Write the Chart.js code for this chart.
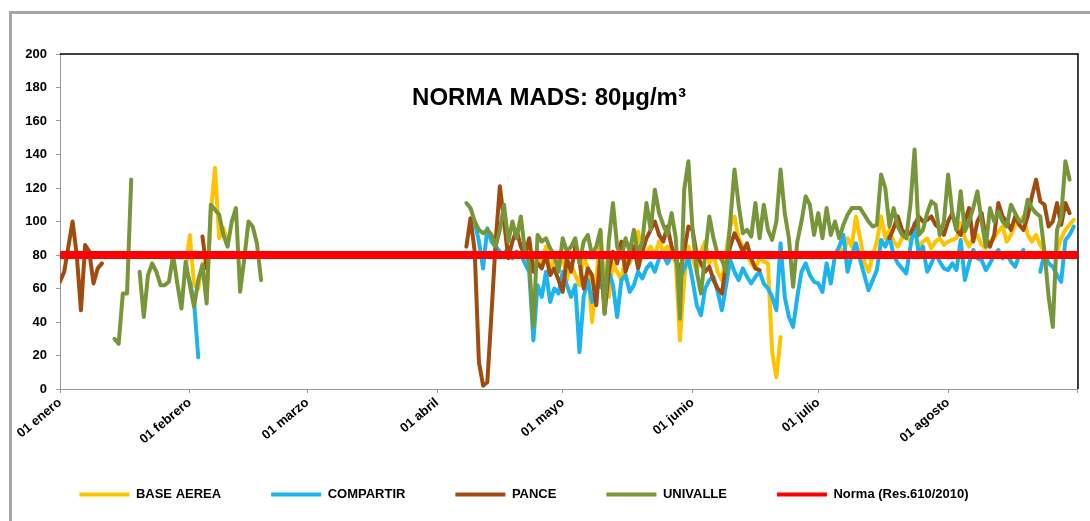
<!DOCTYPE html>
<html>
<head>
<meta charset="utf-8">
<script src="https://cdn.jsdelivr.net/npm/chart.js@4.4.0/dist/chart.umd.min.js"></script>
<style>
  html, body { margin: 0; padding: 0; background: #fff; }
  #wrap { position: relative; width: 1090px; height: 521px; overflow: hidden; }
  #frame { position: absolute; left: 9px; top: 11px; width: 1100px; height: 540px;
           border-left: 3px solid #a6a6a6; border-top: 3px solid #a6a6a6; }
  canvas { position: absolute; left: 0; top: 0; }
</style>
</head>
<body>
<div id="wrap">
  <div id="frame"></div>
  <canvas id="chart" width="1090" height="521"></canvas>
</div>
<script>
// x = day of year (0 = 01 enero)
const dayTicks = [0, 31, 59, 90, 120, 151, 181, 212, 243];
const dayTickLabels = ['01 enero', '01 febrero', '01 marzo', '01 abril', '01 mayo', '01 junio', '01 julio', '01 agosto', ''];

// each run: [first day, daily values]
const baseAerea = [
  [30, [72, 92, 62, 60, 75, 55, 105, 132, 90, 96, 88]],
  [114, [80, 75, 85, 70, 78, 72, 80, 65, 75, 68,
         62, 80, 72, 40, 65, 94, 62, 55, 75, 70,
         65, 80, 75, 85, 94, 80, 82, 85, 80, 88,
         82, 85, 80, 75, 29, 65, 85, 78, 70, 82,
         88, 75, 80, 70, 65, 82, 97, 103, 90, 85,
         80, 75, 72, 78, 76, 75, 22, 7, 31]],
  [186, [85, 80, 90, 85, 103, 90, 76, 70, 80, 88,
         103, 90, 95, 88, 85, 90, 92, 88, 95, 85,
         88, 90, 84, 88, 90, 86, 88, 89, 90, 99,
         90, 85, 90, 92, 86, 84, 88, 90, 94, 97,
         88, 92, 98, 100, 103, 92, 88, 92, 86, 82,
         81, 80, 82, 90, 95, 98, 101]]
];

const compartir = [
  [30, [72, 64, 52, 19]],
  [99, [100, 88, 72, 96, 88, 85, 82, 80, 85, 78,
        82, 80, 75, 70, 29, 62, 55, 70, 52, 60,
        57, 70, 62, 55, 62, 22, 55, 65, 52, 60,
        62, 58, 70, 62, 43, 65, 68, 58, 62, 70,
        66, 72, 75, 70, 78, 80, 75, 80, 78, 65,
        72, 78, 65, 50, 44, 60, 65, 67, 58, 47,
        62, 77, 70, 65, 72, 67, 63, 67, 70, 63,
        60, 55, 47, 87, 55, 43, 37, 55, 70, 75,
        68, 64, 63, 58, 75, 63, 80, 85, 92, 70,
        80, 87, 77, 68, 59, 65, 71, 89, 85, 91,
        80, 75, 72, 69, 85, 99, 80, 85, 70, 75,
        81, 76, 72, 71, 75, 71, 89, 65, 75, 83,
        78, 77, 71, 75, 80, 83, 78, 81, 76, 73,
        80, 83]],
  [234, [70, 81, 75, 73, 68, 64, 89, 92, 97]]
];

const pance = [
  [0, [64, 70, 85, 100, 80, 47, 86, 82, 63, 72, 75]],
  [34, [91, 72]],
  [97, [85, 102, 82, 16, 2, 4, 45, 88, 121, 100,
        78, 88, 95, 85, 80, 90, 70, 75, 72, 80,
        68, 72, 65, 58, 78, 70, 85, 76, 60, 72,
        68, 50, 80, 45, 70, 82, 75, 88, 70, 78,
        85, 72, 82, 90, 95, 100, 92, 88, 97, 85,
        78, 70, 82, 97, 95, 80, 75, 70, 73, 65,
        60, 57, 75, 85, 93, 88, 82, 87, 78, 72,
        71]],
  [198, [90, 96, 103, 95, 92, 93, 98, 103, 100, 101,
         103, 98, 96, 92, 100, 105, 95, 92, 100, 108,
         88, 100, 105, 90, 85, 92, 111, 103, 100, 95,
         103, 98, 95, 103, 115, 125, 112, 110, 97, 100,
         111, 98, 111, 105]]
];

const univalle = [
  [13, [30, 27, 57, 57, 125]],
  [19, [70, 43, 68, 75, 70, 62, 62, 64, 80, 63,
        48, 76, 62, 49, 65, 74, 51, 110, 107, 104,
        92, 85, 100, 108, 58, 78, 100, 97, 87, 65]],
  [97, [111, 108, 100, 95, 93, 95, 92, 85, 95, 110,
        88, 100, 90, 103, 82, 75, 37, 92, 88, 90,
        84, 80, 70, 90, 82, 85, 90, 75, 88, 92,
        80, 85, 95, 45, 88, 111, 85, 78, 90, 82,
        95, 80, 88, 111, 95, 119, 105, 98, 92, 105,
        90, 42, 119, 136, 95, 70, 57, 80, 103, 90,
        80, 77, 70, 100, 131, 110, 93, 95, 91, 111,
        90, 110, 95, 89, 100, 131, 105, 90, 61, 88,
        100, 115, 110, 92, 105, 90, 108, 92, 100, 90,
        98, 104, 108, 108, 108, 104, 100, 97, 98, 128,
        120, 97, 108, 97, 92, 90, 110, 143, 92, 95,
        105, 112, 110, 92, 100, 128, 105, 95, 118, 94,
        100, 108, 118, 100, 85, 108, 100, 106, 100, 97,
        110, 105, 100, 100, 113, 108, 105, 103, 82, 55,
        37, 95, 103, 136, 125]]
];

const normaValue = 80;

// runs -> {x, y} points, with a null after each run so the line breaks
const toPoints = runs => runs.flatMap(([start, vals]) => [
  ...vals.map((v, i) => ({ x: start + i, y: v })),
  { x: start + vals.length, y: null }
]);

Chart.defaults.font.family = '"Liberation Sans", Arial, sans-serif';

const boldFont = { size: 13, weight: 'bold' };

const plotDecor = {
  id: 'plotDecor',
  afterLayout(chart) {
    // legend row sits a bit left of centre and higher in the original
    const lg = chart.legend;
    lg.left -= 15;
    lg.right -= 15;
    lg.top -= 9;
    lg.bottom -= 9;
  },
  beforeDatasetsDraw(chart) {
    const { ctx, chartArea: a } = chart;
    ctx.save();
    ctx.strokeStyle = '#000';
    ctx.lineWidth = 1.5;
    ctx.beginPath();
    ctx.moveTo(a.left, a.top);
    ctx.lineTo(a.right, a.top);
    ctx.lineTo(a.right, a.bottom);
    ctx.stroke();
    ctx.restore();
  },
  afterDraw(chart) {
    const ctx = chart.ctx;
    ctx.save();
    ctx.fillStyle = '#000';
    ctx.font = 'bold 24px "Liberation Sans", Arial, sans-serif';
    ctx.textAlign = 'center';
    ctx.textBaseline = 'alphabetic';
    ctx.fillText('NORMA MADS: 80µg/m³', 549, 105);
    ctx.restore();
  }
};

const lineStyle = { pointRadius: 0, borderWidth: 4, borderJoinStyle: 'round', borderCapStyle: 'round', spanGaps: false, tension: 0 };

new Chart(document.getElementById('chart'), {
  type: 'line',
  data: {
    datasets: [
      { label: 'BASE AEREA', data: toPoints(baseAerea), borderColor: '#FFC300', backgroundColor: '#FFC300', order: 4, ...lineStyle },
      { label: 'COMPARTIR', data: toPoints(compartir), borderColor: '#1DB3EC', backgroundColor: '#1DB3EC', order: 3, ...lineStyle },
      { label: 'PANCE', data: toPoints(pance), borderColor: '#A04C10', backgroundColor: '#A04C10', order: 2, ...lineStyle },
      { label: 'UNIVALLE', data: toPoints(univalle), borderColor: '#77963A', backgroundColor: '#77963A', order: 1, ...lineStyle },
      { label: 'Norma (Res.610/2010)',
        data: [{ x: dayTicks[0], y: normaValue }, { x: dayTicks[dayTicks.length - 1], y: normaValue }],
        borderColor: '#FF0000', backgroundColor: '#FF0000', order: 0, ...lineStyle, borderWidth: 8, borderCapStyle: 'butt' }
    ]
  },
  options: {
    responsive: false,
    animation: false,
    layout: { padding: { left: 0, right: 12, top: 54, bottom: 1 } },
    plugins: {
      tooltip: { enabled: false },
      legend: {
        position: 'bottom',
        labels: {
          boxWidth: 50,
          boxHeight: 4,
          padding: 50,
          color: '#000',
          font: boldFont,
          sort: (a, b) => a.datasetIndex - b.datasetIndex,
          generateLabels: chart => Chart.defaults.plugins.legend.labels.generateLabels(chart)
            .map(item => ({ ...item, fillStyle: item.strokeStyle, lineWidth: 0 }))
        }
      }
    },
    scales: {
      x: {
        type: 'linear',
        min: dayTicks[0],
        max: dayTicks[dayTicks.length - 1],
        afterBuildTicks: scale => { scale.ticks = dayTicks.map(v => ({ value: v })); },
        afterFit: scale => { scale.height = 58; },
        ticks: {
          autoSkip: false,
          minRotation: 40,
          maxRotation: 40,
          padding: 2,
          color: '#000',
          font: boldFont,
          callback: v => dayTickLabels[dayTicks.indexOf(v)] || ''
        },
        grid: { drawOnChartArea: false, tickLength: 4, color: '#999' },
        border: { color: '#999' }
      },
      y: {
        min: 0,
        max: 200,
        afterFit: scale => { scale.width = 60; },
        ticks: { stepSize: 20, padding: 9, color: '#000', font: boldFont },
        grid: { drawOnChartArea: false, tickLength: 4, color: '#999' },
        border: { color: '#999' }
      }
    }
  },
  plugins: [plotDecor]
});
</script>
</body>
</html>
